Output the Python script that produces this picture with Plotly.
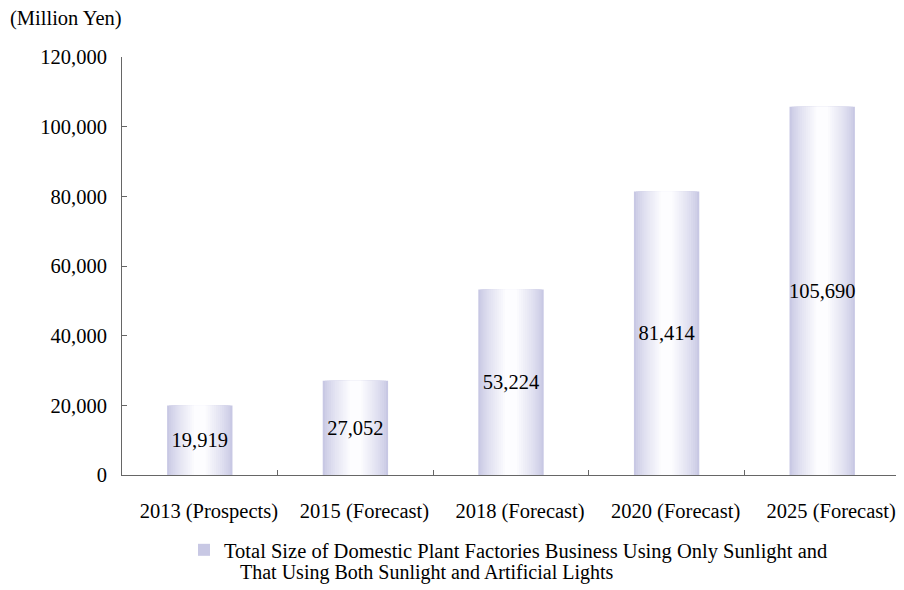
import plotly.graph_objects as go

categories = ["2013 (Prospects)", "2015 (Forecast)", "2018 (Forecast)", "2020 (Forecast)", "2025 (Forecast)"]
values = [19919, 27052, 53224, 81414, 105690]
labels = ["19,919", "27,052", "53,224", "81,414", "105,690"]
y_ticks = [0, 20000, 40000, 60000, 80000, 100000, 120000]
y_tick_text = ["0", "20,000", "40,000", "60,000", "80,000", "100,000", "120,000"]
legend_line1 = "Total Size of Domestic Plant Factories Business Using Only Sunlight and"
legend_line2 = "That Using Both Sunlight and Artificial Lights"
unit_label = "(Million Yen)"

FONT = "Liberation Serif"
fig = go.Figure()

# smooth horizontal gradient simulated by stacked, narrowing layers (edge -> centre)
n_layers = 14
edge = (200, 200, 228)
centre = (253, 253, 255)
for i in range(n_layers):
    t = i / (n_layers - 1)
    w = 0.42 * (1 - 0.82 * t)
    tt = t ** 0.8
    c = tuple(round(edge[k] + (centre[k] - edge[k]) * tt) for k in range(3))
    fig.add_trace(go.Bar(
        x=categories, y=values, width=w,
        marker=dict(color="rgb(%d,%d,%d)" % c, line=dict(width=0)),
        name=legend_line1, showlegend=(i == 0), hoverinfo="skip",
    ))

fig.add_trace(go.Bar(
    x=categories, y=values, width=0.42, marker=dict(color="rgba(0,0,0,0)", line=dict(width=0)),
    text=labels, textposition="inside", insidetextanchor="middle", constraintext="none",
    textangle=0, cliponaxis=False,
    textfont=dict(family=FONT, size=20.5, color="#000"), showlegend=False,
))

fig.add_annotation(text=unit_label, xref="paper", yref="paper", x=-0.1465, y=1.0933,
                   xanchor="left", yanchor="middle", showarrow=False,
                   font=dict(family=FONT, size=20.5, color="#000"))
fig.add_annotation(text=legend_line2, xref="paper", yref="paper", x=0.1491, y=-0.2344,
                   xanchor="left", yanchor="middle", showarrow=False,
                   font=dict(family=FONT, size=20, color="#000"))

fig.update_layout(
    width=896, height=582, barmode="overlay",
    margin=dict(l=114, r=4, t=49, b=115, autoexpand=False),
    plot_bgcolor="white", paper_bgcolor="white",
    font=dict(family=FONT, size=20.5, color="#000"),
    showlegend=True,
    legend=dict(x=0.0797, y=-0.1794, xanchor="left", yanchor="middle",
                font=dict(family=FONT, size=20.5, color="#000"),
                itemwidth=30, tracegroupgap=0, bgcolor="rgba(0,0,0,0)"),
    xaxis=dict(showline=True, linecolor="#666", linewidth=1, ticks="inside",
               tickson="boundaries", ticklen=5, tickcolor="#666",
               ticklabelstandoff=17, ticklabelshift=9, showgrid=False, automargin=False,
               tickfont=dict(family=FONT, size=20.5)),
    yaxis=dict(range=[0, 120000], tickvals=y_ticks, ticktext=y_tick_text,
               showline=True, linecolor="#666", linewidth=1, ticks="inside",
               ticklen=5, tickcolor="#666", showgrid=False, zeroline=False,
               automargin=False,
               ticklabelstandoff=10, tickfont=dict(family=FONT, size=20.5)),
)

fig.write_html("out.html")
